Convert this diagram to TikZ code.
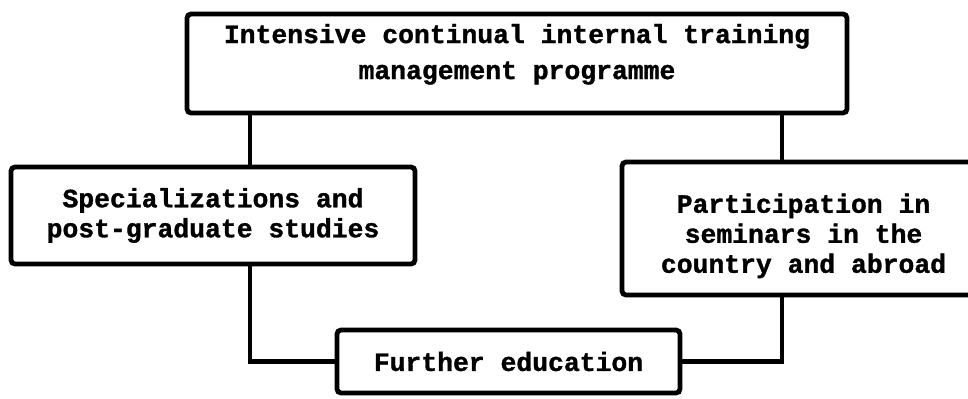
\documentclass[tikz,border=0pt]{standalone}
\usepackage{fontspec}
\setmonofont{Liberation Mono}[BoldFeatures={FakeBold=1.2}]
\usetikzlibrary{positioning,calc}
\tikzset{
  box/.style={draw=black,line width=2.4pt,rounded corners=2pt,inner sep=0pt,align=center,
    font=\ttfamily\bfseries\fontsize{13.2}{15}\selectfont},
  link/.style={draw=black,line width=2.4pt},
}

\begin{document}
\begin{tikzpicture}[x=0.5pt,y=-0.5pt]
\useasboundingbox (0,0) rectangle (968,398);
% columns of the two branches
\coordinate (jl) at (250,0);
\coordinate (jr) at (782,0);
\node[box,minimum width=330pt,minimum height=49.5pt,text depth=12pt,
  font=\ttfamily\bfseries\fontsize{13.2}{18}\selectfont] (prog) at (517,63.5)
  {Intensive continual internal training\\management programme};
\node[box,minimum width=202pt,minimum height=48.5pt] (spec) at (213,215.5)
  {Specializations and\\post-graduate studies};
\node[box,minimum width=181.5pt,minimum height=66.5pt,text height=47pt] (part) at (803.5,228.5)
  {Participation in\\seminars in the\\country and abroad};
\node[box,minimum width=171.5pt,minimum height=31.5pt] (further) at (508.5,361.5)
  {Further education};
\draw[link] (prog.south -| jl) -- (spec.north -| jl);
\draw[link] (prog.south -| jr) -- (part.north -| jr);
\draw[link] (spec.south -| jl) |- (further.west);
\draw[link] (part.south -| jr) |- (further.east);
\end{tikzpicture}
\end{document}
